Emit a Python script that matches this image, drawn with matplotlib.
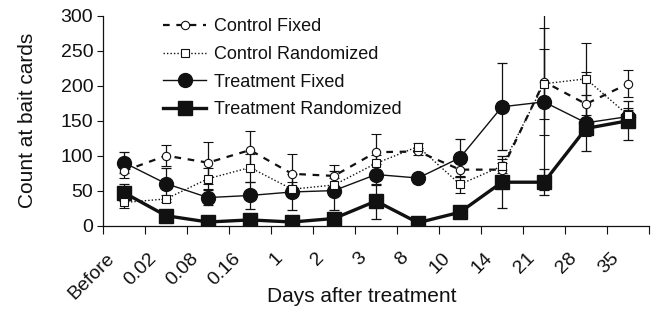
import numpy as np
import matplotlib
matplotlib.use("Agg")
import matplotlib.pyplot as plt
from matplotlib.lines import Line2D

plt.rcParams['font.family'] = ['Liberation Sans', 'DejaVu Sans']

days = ["Before", "0.02", "0.08", "0.16", "1", "2", "3", "8", "10", "14", "21", "28", "35"]

control_fixed = [78, 100, 90, 108, 74, 71, 105, 106, 80, 80, 206, 174, 203]
control_fixed_err = [10, 15, 30, 27, 29, 15, 26, 5, 10, 10, 77, 46, 19]

control_rand = [33, 38, 67, 83, 52, 58, 89, 113, 59, 85, 203, 210, 158]
control_rand_err = [8, 5, 15, 20, 10, 10, 12, 5, 12, 10, 50, 52, 10]

treat_fixed = [90, 60, 40, 43, 48, 50, 73, 68, 97, 170, 177, 147, 156]
treat_fixed_err = [15, 22, 11, 19, 26, 28, 15, 5, 27, 62, 126, 40, 10]

treat_rand = [47, 14, 5, 8, 5, 10, 35, 4, 19, 62, 62, 139, 150]
treat_rand_err = [12, 5, 3, 3, 3, 3, 25, 3, 3, 37, 19, 10, 28]

x = np.arange(len(days)) + 0.5

fig = plt.figure(figsize=(6.51, 3.26), dpi=100)
ax = fig.add_axes([103 / 651, 1 - 225.5 / 326, 546 / 651, 209.5 / 326])

ink = '#111111'
err_kw = dict(ecolor=ink, elinewidth=0.9, capsize=3.3, capthick=0.9)

styles = {
    'Control Fixed': dict(color=ink, lw=1.6, ls=(0, (3, 3)), marker='o', ms=6,
                          mfc='white', mec=ink, mew=0.8),
    'Control Randomized': dict(color=ink, lw=1.0, ls=(0, (1, 1.5)), marker='s', ms=6,
                               mfc='white', mec=ink, mew=0.8),
    'Treatment Fixed': dict(color=ink, lw=1.0, ls='-', marker='o', ms=10, mfc=ink, mec=ink),
    'Treatment Randomized': dict(color=ink, lw=2.4, ls='-', marker='s', ms=10, mfc=ink, mec=ink),
}

ax.errorbar(x, treat_fixed, yerr=treat_fixed_err, zorder=3, **styles['Treatment Fixed'], **err_kw)
ax.errorbar(x, treat_rand, yerr=treat_rand_err, zorder=3, **styles['Treatment Randomized'], **err_kw)
ax.errorbar(x, control_fixed, yerr=control_fixed_err, zorder=4, **styles['Control Fixed'], **err_kw)
ax.errorbar(x, control_rand, yerr=control_rand_err, zorder=4, **styles['Control Randomized'], **err_kw)

ax.set_xlim(0, len(days))
ax.set_ylim(0, 300)
ax.set_yticks(range(0, 301, 50))
ax.set_xticks(np.arange(len(days) + 1))
ax.set_xticklabels([])
ax.tick_params(axis='y', labelsize=14, length=4, width=0.8, pad=3, colors=ink)
ax.tick_params(axis='x', length=6, width=0.8, colors=ink)
for s in ['top', 'right']:
    ax.spines[s].set_visible(False)
for s in ['left', 'bottom']:
    ax.spines[s].set_linewidth(0.9)
    ax.spines[s].set_color(ink)

trans = ax.get_xaxis_transform()
for i, d in enumerate(days):
    ax.text(i + 0.07, -0.115, d, transform=trans, rotation=45, rotation_mode='anchor',
            ha='right', va='top', fontsize=14, color=ink)

ax.set_ylabel('Count at bait cards', fontsize=15, color=ink, labelpad=17)
fig.text(362 / 651, 1 - 297 / 326, 'Days after treatment', fontsize=15, color=ink,
         ha='center', va='center')

names = ['Control Fixed', 'Control Randomized', 'Treatment Fixed', 'Treatment Randomized']
handles = [Line2D([], [], **styles[n]) for n in names]
leg = ax.legend(handles, names,
                loc='upper left', bbox_to_anchor=(163 / 651, 1 - 18 / 326),
                bbox_transform=fig.transFigure, frameon=False, fontsize=13,
                handlelength=2.4, handletextpad=0.45, labelspacing=0.6,
                borderpad=0, borderaxespad=0, numpoints=1)
for t in leg.get_texts():
    t.set_color(ink)

fig.savefig('out.png', dpi=100)
